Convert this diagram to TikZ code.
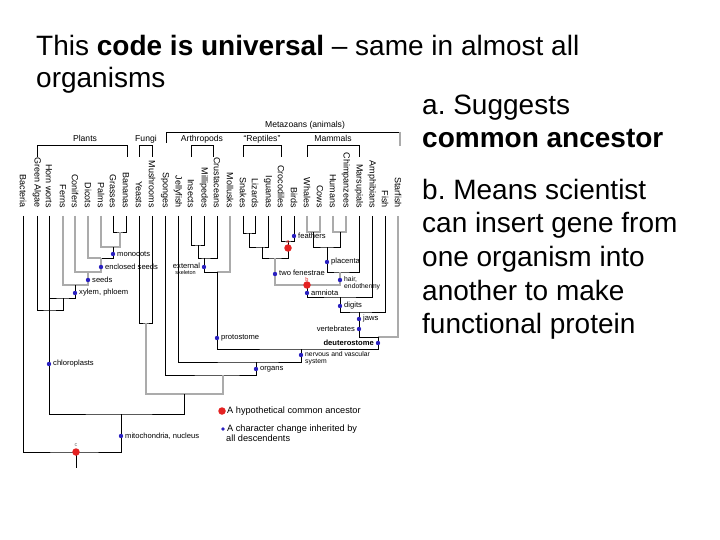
\documentclass[tikz,border=0pt]{standalone}
\usepackage{fontspec}
\setmainfont{Liberation Sans}
\frenchspacing
\definecolor{dotblue}{HTML}{2A20C0}
\definecolor{dotred}{HTML}{E42222}
\definecolor{lgray}{HTML}{ABABAB}
\tikzset{
  ln/.style={draw=black, line width=0.85pt},
  lg/.style={draw=lgray, line width=1.1pt},
  bdot/.style={circle, fill=dotblue, inner sep=0pt, minimum size=4.4pt},
  rdot/.style={circle, fill=dotred, inner sep=0pt, minimum size=7.5pt},
  sp/.style={rotate=-90, anchor=east, inner sep=0pt, font=\fontsize{9}{9}\selectfont},
  grp/.style={anchor=base, inner sep=0pt, font=\fontsize{8.6}{9}\selectfont},
  dl/.style={inner sep=0pt, font=\fontsize{7.6}{8}\selectfont},
  dls/.style={inner sep=0pt, anchor=west, font=\fontsize{6.8}{7}\selectfont},
  dlr/.style={dl, anchor=west},
  dll/.style={dl, anchor=east},
  tiny/.style={inner sep=0pt, font=\fontsize{5.5}{6}\selectfont},
  leg/.style={inner sep=0pt, anchor=west, font=\fontsize{9.2}{10}\selectfont},
  big/.style={anchor=base west, inner sep=0pt, font=\fontsize{28}{33.5}\selectfont},
}
\begin{document}
\begin{tikzpicture}[x=1pt,y=-1pt]
\fill[white] (0,0) rectangle (720,540);
\path[use as bounding box] (0,0) rectangle (720,540);

% ---------- main text ----------
\node[big] (t1) at (36,56) {This \textbf{code is universal} -- same in almost all};
\node[big] (t2) at (36,88) {organisms};
\node[big] (r1) at (422,115) {a. Suggests};
\node[big] (r2) at (422,148) {\textbf{common ancestor}};
\node[big] (r3) at (422,199.5) {b. Means scientist};
\node[big] (r4) at (422,233) {can insert gene from};
\node[big] (r5) at (422,266.5) {one organism into};
\node[big] (r6) at (422,300) {another to make};
\node[big] (r7) at (422,333.5) {functional protein};

% ---------- species labels and tips ----------
\foreach \x/\n/\t in {23/Bac/Bacteria, 37/Gre/Green Algae, 49/Hor/Horn worts,
  63/Fer/Ferns, 75/Con/Conifers, 88/Dic/Dicots, 101/Pal/Palms, 113/Gra/Grasses,
  126/Ban/Bananas, 139/Yea/Yeasts, 152/Mus/Mushrooms, 165/Spo/Sponges,
  178/Jel/Jellyfish, 191/Ins/Insects, 204/Mil/Millipedes, 217/Cru/Crustaceans,
  230/Mol/Mollusks, 243/Sna/Snakes, 255/Liz/Lizards, 268/Igu/Iguanas,
  281/Cro/Crocodiles, 294/Bir/Birds, 307/Wha/Whales, 320/Cow/Cows,
  333/Hum/Humans, 346/Chi/Chimpanzees, 359/Mar/Marsupials, 372/Amp/Amphibians,
  385/Fis/Fish, 398/Sta/Starfish}{
  \node[sp] (s\n) at (\x,208) {\t};
  \coordinate (\n) at (\x,216);
}

% ---------- group brackets ----------
\node[grp] (gPl) at (85,142) {Plants};
\node[grp] (gFu) at (146,142) {Fungi};
\node[grp] (gAr) at (202,142) {Arthropods};
\node[grp] (gRe) at (262,142) {``Reptiles''};
\node[grp] (gMa) at (333,142) {Mammals};
\node[grp] (gMz) at (305,128) {Metazoans (animals)};
\coordinate (bPl1) at (37,157);  \coordinate (bPl2) at (127,157);
\coordinate (bFu1) at (139,157); \coordinate (bFu2) at (152,157);
\coordinate (bAr1) at (191,157); \coordinate (bAr2) at (213,157);
\coordinate (bRe1) at (243,157); \coordinate (bRe2) at (281,157);
\coordinate (bMa1) at (307,157); \coordinate (bMa2) at (359,157);
\draw[ln] (bPl1) -- ++(0,-12) -| (bPl2);
\draw[ln] (bFu1) -- ++(0,-12) -| (bFu2);
\draw[ln] (bAr1) -- ++(0,-12) -| (bAr2);
\draw[ln] (bRe1) -- ++(0,-12) -| (bRe2);
\draw[ln] (bMa1) -- ++(0,-12) -| (bMa2);
\coordinate (mzL) at (166,143); \coordinate (mzC) at (400,132); \coordinate (mzR) at (400,146);
\draw[ln] (mzL) |- (mzC);
\draw[lg] (mzC) -- (mzR);

% ---------- junctions ----------
\coordinate (jGB) at (120,232);
\coordinate (jMono) at (113,247);
\coordinate (jAng) at (101,258);
\coordinate (jSeed) at (88,272);
\coordinate (jVasc) at (75,285);
\coordinate (jLand) at (63,298);
\coordinate (jPlant) at (49,310);
\coordinate (jFun) at (146,323);
\coordinate (jIM) at (198,245);
\coordinate (jArth) at (204,258);
\coordinate (jProt) at (217,272);
\coordinate (jSL) at (249,233);
\coordinate (jSLI) at (262,247);
\coordinate (jCB) at (288,241);
\coordinate (jRep) at (275,258);
\coordinate (jWC) at (313,232);
\coordinate (jHC) at (340,232);
\coordinate (jPlac) at (327,247);
\coordinate (jMam) at (340,272);
\coordinate (jAmn) at (307,285);
\coordinate (jTet) at (340,297);
\coordinate (jVert) at (359,312);
\coordinate (jDeut) at (378,337);
\coordinate (jBil) at (301,349);
\coordinate (jOrg) at (256,362);
\coordinate (jTis) at (223,375);
\coordinate (jOpist) at (184,394);
\coordinate (jEuk) at (121,414);
\coordinate (jRoot) at (76,452);
\coordinate (rootEnd) at (76,468);

% ---------- tree ----------
\draw[ln] (Gra) |- (jGB) -| (Ban);
\draw[lg] (Pal) |- (jMono) -| (jGB);
\draw[lg] (Dic) |- (jAng);
\draw[ln] (jAng) -| (jMono);
\draw[lg] (Con) |- (jSeed) -| (jAng);
\draw[lg] (Fer) |- (jVasc) -| (jSeed);
\draw[ln] (Hor) |- (jLand) -| (jVasc);
\draw[ln] (Gre) |- (jPlant) -| (jLand);
\draw[ln] (Hor) -- (jPlant);
\draw[ln] (Yea) |- (jFun) -| (Mus);
\draw[ln] (Ins) |- (jIM) -| (Mil);
\draw[ln] (jIM) |- (jArth) -| (Cru);
\draw[ln] (jArth) |- (jProt);
\draw[lg] (jProt) -| (Mol);
\draw[ln] (Sna) |- (jSL) -| (Liz);
\draw[ln] (jSL) |- (jSLI) -| (Igu);
\draw[ln] (Cro) |- (jCB) -| (Bir);
\draw[ln] (jSLI) |- (jRep) -| (jCB);
\draw[lg] (Wha) |- (jWC) -| (Cow);
\draw[lg] (Hum) |- (jHC) -| (Chi);
\draw[ln] (jWC) |- (jPlac) -| (jHC);
\draw[ln] (jPlac) |- (jMam) -| (Mar);
\draw[lg] (jRep) |- (jAmn) -| (jMam);
\draw[ln] (jAmn) |- (jTet) -| (Amp);
\draw[ln] (jTet) |- (jVert) -| (Fis);
\draw[ln] (jVert) |- (jDeut);
\draw[lg] (jDeut) -| (Sta);
\draw[ln] (jProt) |- (jBil) -| (jDeut);
\draw[ln] (Jel) |- (jOrg) -| (jBil);
\draw[ln] (Spo) |- (jTis) -| (jOrg);
\draw[lg] (jFun) |- (jOpist) -| (jTis);
\draw[ln] (jPlant) |- (jEuk) -| (jOpist);
\draw[ln] (Bac) |- (jRoot) -| (jEuk);
\draw[ln] (jRoot) -- (rootEnd);

% ---------- character changes ----------
\node[bdot] (dMono) at (113,254) {};
\node[dlr] (lMono) at (117,254) {monocots};
\node[bdot] (dEncl) at (101,267) {};
\node[dlr] (lEncl) at (105,267) {enclosed seeds};
\node[bdot] (dSeed) at (88,280) {};
\node[dlr] (lSeed) at (92,280) {seeds};
\node[bdot] (dXyl) at (75,293) {};
\node[dlr] (lXyl) at (79,293) {xylem, phloem};
\node[bdot] (dChl) at (49,364) {};
\node[dlr] (lChl) at (53,364) {chloroplasts};
\node[bdot] (dMit) at (121,436) {};
\node[dlr] (lMit) at (125,436) {mitochondria, nucleus};
\node[bdot] (dExt) at (204,267) {};
\node[dl] (lExt1) at (186.5,266) {external};
\node[tiny] (lExt2) at (185.5,273) {skeleton};
\node[bdot] (dPro) at (217,338) {};
\node[dlr] (lPro) at (221,338) {protostome};
\node[bdot] (dOrg) at (256,369) {};
\node[dlr] (lOrg) at (260,369) {organs};
\node[bdot] (dNer) at (301,355) {};
\node[dls] (lNer1) at (305,354.5) {nervous and vascular};
\node[dls] (lNer2) at (305,362.5) {system};
\node[bdot] (dFea) at (294,236) {};
\node[dlr] (lFea) at (298,236) {feathers};
\node[bdot] (dTwo) at (275,274) {};
\node[dlr] (lTwo) at (279,273) {two fenestrae};
\node[bdot] (dPla) at (327,262) {};
\node[dlr] (lPla) at (331,262) {placenta};
\node[bdot] (dHair) at (340,280) {};
\node[dls] (lHair1) at (344,279.5) {hair,};
\node[dls] (lHair2) at (344,287) {endothermy};
\node[bdot] (dAmn) at (307,293) {};
\node[dlr] (lAmn) at (311,293) {amniota};
\node[bdot] (dDig) at (340,306) {};
\node[dlr] (lDig) at (344,306) {digits};
\node[bdot] (dJaw) at (359,319) {};
\node[dlr] (lJaw) at (363,319) {jaws};
\node[bdot] (dVer) at (359,329) {};
\node[dll] (lVer) at (355,329) {vertebrates};
\node[bdot] (dDeu) at (378,343) {};
\node[dll] (lDeu) at (374,343) {\bfseries deuterostome};

% ---------- hypothetical ancestors ----------
\node[rdot] (rA) at (288,248) {};
\node[tiny, text=dotred] (lA) at (288,242) {a};
\node[rdot] (rB) at (307,285) {};
\node[tiny, text=dotred] (lB) at (307,279.5) {b};
\node[rdot] (rC) at (76,452) {};
\node[tiny, text=black!55] (lC) at (76,445) {c};

% ---------- legend ----------
\node[rdot] (legR) at (222,411) {};
\node[leg] (legRt) at (227,411) {A hypothetical common ancestor};
\node[bdot, minimum size=3.6pt] (legB) at (223,429) {};
\node[leg] (legBt1) at (227,429) {A character change inherited by};
\node[leg] (legBt2) at (226,438.5) {all descendents};
\end{tikzpicture}
\end{document}
